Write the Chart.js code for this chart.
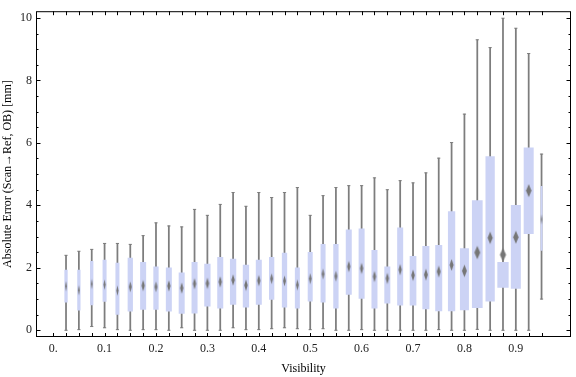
<!DOCTYPE html>
<html>
<head>
<meta charset="utf-8">
<script src="https://cdn.jsdelivr.net/npm/chart.js@4.4.1/dist/chart.umd.min.js"></script>
<style>
    html, body { margin: 0; padding: 0; background: #fff; }
    #wrap { width: 576px; height: 377px; }
</style>
</head>
<body>
<div id="wrap"><canvas id="visibilityChart"></canvas></div>
<script>
// Box-whisker data per visibility bin
const visibility = [0.025, 0.05, 0.075, 0.1, 0.125, 0.15, 0.175, 0.2, 0.225, 0.25,
    0.275, 0.3, 0.325, 0.35, 0.375, 0.4, 0.425, 0.45, 0.475, 0.5,
    0.525, 0.55, 0.575, 0.6, 0.625, 0.65, 0.675, 0.7, 0.725, 0.75,
    0.775, 0.8, 0.825, 0.85, 0.875, 0.9, 0.925, 0.95];
const whiskerLow = [0, 0.02, 0.12, 0.08, 0.02, 0, 0.02, 0.02, 0, 0.08,
    0, 0, 0, 0.08, 0.02, 0.02, 0.05, 0.08, 0.05, 0.02,
    0.05, 0, 0, 0.02, 0, 0, 0, 0, 0, 0.02,
    0, 0, 0.03, 0, 0, 0, 0, 1.00];
const quartile1 = [0.89, 0.63, 0.80, 0.91, 0.50, 0.60, 0.66, 0.66, 0.60, 0.53,
    0.54, 0.76, 0.70, 0.82, 0.73, 0.82, 0.98, 0.73, 0.70, 0.92,
    0.89, 0.70, 1.14, 1.01, 0.70, 0.86, 0.79, 0.79, 0.67, 0.61,
    0.61, 0.64, 0.71, 0.92, 1.36, 1.33, 3.08, 2.55];
const quartile3 = [1.94, 1.94, 2.22, 2.26, 2.16, 2.32, 2.19, 2.04, 2.01, 1.85,
    2.19, 2.13, 2.35, 2.29, 2.10, 2.26, 2.35, 2.48, 2.01, 2.51,
    2.76, 2.76, 3.23, 3.26, 2.57, 2.04, 3.29, 2.38, 2.70, 2.73,
    3.81, 2.63, 4.16, 5.57, 2.19, 4.01, 5.85, 4.62];
const whiskerHigh = [2.40, 2.53, 2.59, 2.78, 2.78, 2.75, 3.03, 3.44, 3.34, 3.31,
    3.87, 3.68, 4.03, 4.41, 3.97, 4.41, 4.25, 4.41, 4.57, 3.68,
    4.31, 4.57, 4.63, 4.63, 4.88, 4.50, 4.79, 4.72, 5.04, 5.51,
    6.01, 6.92, 9.30, 9.05, 9.99, 9.67, 8.86, 5.64];
const meanError = [1.41, 1.28, 1.48, 1.46, 1.27, 1.39, 1.43, 1.39, 1.42, 1.35,
    1.49, 1.50, 1.55, 1.61, 1.44, 1.59, 1.65, 1.58, 1.45, 1.65,
    1.80, 1.73, 2.04, 1.98, 1.72, 1.66, 1.94, 1.76, 1.78, 1.88,
    2.09, 1.90, 2.49, 2.96, 2.42, 2.98, 4.47, 3.55];

// Axis ticks
const xTickValues = [0, 0.1, 0.2, 0.3, 0.4, 0.5, 0.6, 0.7, 0.8, 0.9];
const xTickLabels = ['0.', '0.1', '0.2', '0.3', '0.4', '0.5', '0.6', '0.7', '0.8', '0.9'];
const yTickValues = [0, 2, 4, 6, 8, 10];

// Drawn box widths in pixels (style, varies per bin in the original)
const boxWidthPx = [3.3, 3.3, 3.3, 4, 4, 5.3, 6, 5.3, 6, 6,
    6, 6.3, 6, 6.3, 6.3, 6, 5.3, 5.3, 5, 5,
    5, 5.3, 6, 6, 6, 6, 6, 6.7, 7, 7,
    7.3, 9, 10.7, 9.3, 11.3, 10, 10, 2];

const serif = "'Liberation Serif', 'Times New Roman', serif";
const boxColor = 'rgb(204, 211, 245)';
const whiskerColor = 'rgb(125, 125, 125)';
const meanColor = 'rgb(118, 118, 118)';

// Elongated diamond marker for the mean, scaled with the box
function makeDiamond(boxW) {
    const w = Math.max(1.6, boxW * 0.55);
    const h = 9 + boxW * 0.4;
    const c = document.createElement('canvas');
    c.width = Math.ceil(w) + 2;
    c.height = Math.ceil(h) + 2;
    const g = c.getContext('2d');
    const cx = c.width / 2, cy = c.height / 2;
    g.fillStyle = meanColor;
    g.beginPath();
    g.moveTo(cx, cy - h / 2);
    g.lineTo(cx + w / 2, cy);
    g.lineTo(cx, cy + h / 2);
    g.lineTo(cx - w / 2, cy);
    g.closePath();
    g.fill();
    return c;
}
const diamonds = boxWidthPx.map(makeDiamond);

const whiskerData = visibility.map((v, i) => ({ x: v, y: [whiskerLow[i], whiskerHigh[i]] }));
const boxData = visibility.map((v, i) => ({ x: v, y: [quartile1[i], quartile3[i]] }));
const capData = visibility.map((v, i) => ({ x: v, y: whiskerLow[i] }))
    .concat(visibility.map((v, i) => ({ x: v, y: whiskerHigh[i] })));
const meanData = visibility.map((v, i) => ({ x: v, y: meanError[i] }));

// Give each box its own width right before the bars are painted
const boxWidthPlugin = {
    id: 'boxWidths',
    beforeDatasetsDraw(chart) {
        const meta = chart.getDatasetMeta(1);
        meta.data.forEach((bar, i) => { bar.width = boxWidthPx[i]; });
    }
};

// Mathematica-style frame with inward ticks on all four sides
const frameTicksPlugin = {
    id: 'frameTicks',
    afterDraw(chart) {
        const { ctx, chartArea: a, scales } = chart;
        const xs = scales.x, ys = scales.y;
        ctx.save();
        ctx.strokeStyle = '#000';
        ctx.lineWidth = 1;
        ctx.strokeRect(a.left + 0.5, a.top + 0.5, a.right - a.left - 1, a.bottom - a.top - 1);
        ctx.beginPath();
        for (let k = 0; k <= 38; k++) {
            const px = Math.round(xs.getPixelForValue(k * 0.025)) + 0.5;
            ctx.moveTo(px, a.bottom); ctx.lineTo(px, a.bottom - 4);
            ctx.moveTo(px, a.top); ctx.lineTo(px, a.top + 4);
        }
        for (let k = 0; k <= 20; k++) {
            const py = Math.round(ys.getPixelForValue(k * 0.5)) + 0.5;
            const len = k % 4 === 0 ? 4.5 : 2.5;
            ctx.moveTo(a.left, py); ctx.lineTo(a.left + len, py);
            ctx.moveTo(a.right, py); ctx.lineTo(a.right - len, py);
        }
        ctx.stroke();
        ctx.restore();
    }
};

const chart = new Chart(document.getElementById('visibilityChart'), {
    type: 'bar',
    data: {
        datasets: [
            {
                label: 'Whiskers',
                data: whiskerData,
                backgroundColor: whiskerColor,
                barThickness: 1.1,
                grouped: false,
                order: 3
            },
            {
                label: 'Interquartile range',
                data: boxData,
                backgroundColor: boxColor,
                barThickness: 6,
                grouped: false,
                inflateAmount: 0,
                order: 2
            },
            {
                type: 'scatter',
                label: 'Whisker caps',
                data: capData,
                pointStyle: 'line',
                radius: 1.6,
                borderWidth: 1,
                borderColor: whiskerColor,
                order: 1
            },
            {
                type: 'scatter',
                label: 'Mean',
                data: meanData,
                pointStyle: ctx => diamonds[ctx.dataIndex],
                radius: 3,
                order: 0
            }
        ]
    },
    options: {
        responsive: true,
        maintainAspectRatio: false,
        animation: false,
        devicePixelRatio: 1,
        layout: { padding: { top: 4, right: 1, left: 0, bottom: 0 } },
        plugins: {
            legend: { display: false },
            tooltip: { enabled: false }
        },
        scales: {
            x: {
                type: 'linear',
                offset: false,
                min: -0.0334,
                max: 1.0073,
                grid: { display: false, drawTicks: false },
                border: { display: false },
                afterBuildTicks: scale => { scale.ticks = xTickValues.map(v => ({ value: v })); },
                afterFit: scale => { scale.height = 40; },
                ticks: {
                    autoSkip: false,
                    maxRotation: 0,
                    padding: 5,
                    color: '#222',
                    font: { family: serif, size: 12 },
                    callback: (v, i) => xTickLabels[i]
                },
                title: {
                    display: true,
                    text: 'Visibility',
                    color: '#000',
                    padding: { top: 0, bottom: 1 },
                    font: { family: serif, size: 12 }
                }
            },
            y: {
                type: 'linear',
                min: -0.215,
                max: 10.215,
                grid: { display: false, drawTicks: false },
                border: { display: false },
                afterBuildTicks: scale => { scale.ticks = yTickValues.map(v => ({ value: v })); },
                afterFit: scale => { scale.width = 36; },
                ticks: {
                    padding: 4,
                    color: '#222',
                    font: { family: serif, size: 12 }
                },
                title: {
                    display: true,
                    text: 'Absolute Error (Scan\u2192Ref, OB) [mm]',
                    color: '#000',
                    padding: { top: 1, bottom: 0 },
                    font: { family: serif, size: 12 }
                }
            }
        }
    },
    plugins: [boxWidthPlugin, frameTicksPlugin]
});
</script>
</body>
</html>
